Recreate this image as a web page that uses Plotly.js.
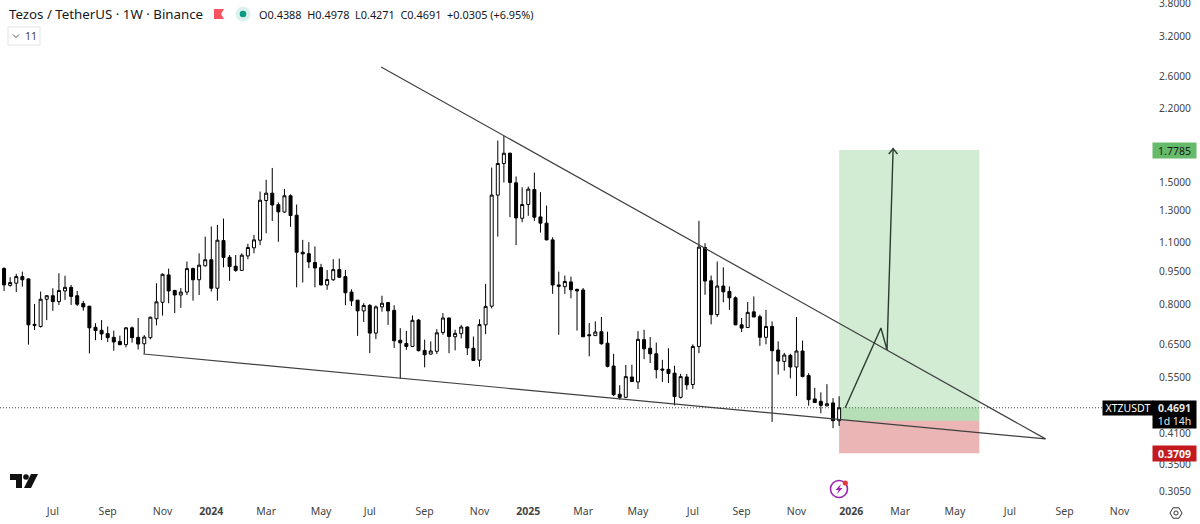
<!DOCTYPE html>
<html>
<head>
<meta charset="utf-8">
<script src="https://cdn.plot.ly/plotly-3.0.1.min.js"></script>
<style>html,body{margin:0;padding:0;background:#fff}#c{width:1200px;height:524px}</style>
</head>
<body>
<div id="c"></div>
<script>
const firstWeek = Date.UTC(2023, 4, 8);
const open_ = [.963,.883,.893,.924,.913,.722,.714,.822,.837,.812,.858,.874,.837,.804,.793,.711,.700,.688,.675,.661,.650,.709,.675,.653,.674,.743,.809,.932,.860,.840,.853,.963,.909,.977,1.008,.870,1.113,1.021,.975,.954,1.028,1.072,1.115,1.369,1.422,1.340,
1.290,1.403,1.269,1.048,1.040,.994,.968,.885,.909,.958,.924,.853,.818,.774,.796,.690,.790,.808,.776,.665,.654,.644,.738,.631,.619,.628,.692,.746,.677,.688,.712,.638,.600,.720,.793,1.408,1.658,1.748,1.500,1.249,1.341,1.449,1.258,1.218,1.117,.885,.877,.899,.865,
.862,.684,.681,.695,.655,.582,.503,.495,.550,.536,.667,.638,.620,.573,.572,.561,.495,.550,.529,.644,1.074,.904,.759,.880,.856,.828,.720,.710,.770,.751,.675,.714,.632,.596,.615,.579,.629,.554,.491,.485,.474,.481,.4388];
const high_ = [.970,.921,.937,.948,.915,.802,.855,.840,.870,.940,.928,.885,.858,.815,.794,.726,.738,.714,.699,.681,.712,.714,.746,.683,.751,.893,.939,.963,.863,.871,.999,.968,1.042,1.136,1.197,1.207,1.247,1.033,1.033,1.042,1.095,1.146,1.434,1.524,1.62,1.356,
1.454,1.413,1.341,1.117,1.104,1.080,.987,.956,1.011,1.014,.956,.865,.819,.805,.802,.796,.837,.809,.797,.708,.698,.756,.742,.667,.661,.704,.765,.748,.702,.720,.714,.678,.741,.890,1.623,1.867,1.912,1.754,1.550,1.466,1.471,1.582,1.430,1.334,1.132,.948,.929,.924,.868,
.871,.727,.733,.750,.695,.620,.527,.585,.586,.697,.702,.676,.657,.601,.638,.583,.559,.559,.651,1.233,1.098,.929,.999,.969,.878,.834,.746,.810,.834,.759,.778,.733,.661,.623,.620,.750,.664,.561,.520,.508,.530,.493,.4978];
const low_ = [.858,.877,.853,.877,.650,.701,.710,.738,.774,.798,.819,.798,.794,.775,.621,.665,.666,.659,.630,.648,.641,.657,.634,.620,.668,.718,.755,.805,.765,.786,.840,.816,.840,.973,.855,.816,.969,.904,.947,.951,1.011,1.042,1.087,1.156,1.232,1.106,
1.285,1.195,.874,.896,.965,.874,.883,.863,.904,.918,.797,.794,.680,.731,.622,.669,.771,.720,.639,.545,.633,.642,.628,.578,.617,.619,.684,.622,.631,.671,.616,.597,.580,.686,.784,1.136,1.503,1.256,1.087,1.224,1.265,1.232,1.160,1.115,.845,.684,.845,.826,.699,
.676,.612,.680,.650,.578,.498,.489,.493,.536,.517,.603,.591,.546,.536,.533,.475,.492,.515,.517,.622,.841,.722,.750,.809,.778,.719,.694,.709,.749,.646,.651,.436,.557,.568,.546,.498,.549,.474,.481,.456,.472,.422,.4271];
const close_ = [.885,.896,.924,.909,.720,.718,.822,.837,.812,.860,.874,.834,.801,.790,.709,.699,.687,.674,.659,.650,.709,.674,.652,.676,.749,.811,.935,.858,.840,.853,.963,.909,.980,1.008,.870,1.115,1.020,.973,.954,1.032,1.074,1.117,1.371,1.422,1.338,1.291,
1.403,1.267,1.048,1.039,.997,.966,.885,.910,.958,.921,.850,.815,.774,.796,.690,.790,.805,.774,.663,.656,.644,.737,.630,.617,.629,.691,.746,.678,.689,.712,.639,.599,.721,.792,1.408,1.658,1.748,1.503,1.251,1.341,1.452,1.256,1.218,1.117,.885,.879,.901,.863,.858,
.677,.681,.694,.653,.581,.502,.495,.551,.537,.668,.636,.620,.571,.570,.560,.497,.551,.528,.644,1.076,.903,.759,.880,.854,.828,.720,.708,.768,.750,.675,.714,.630,.597,.616,.579,.629,.551,.489,.482,.475,.479,.4388,.4691];
const weeks = open_.map((_, i) => new Date(firstWeek + i * 7 * 864e5).toISOString().slice(0, 10));

const xTickDates = ['2023-07-03','2023-09-04','2023-11-06','2024-01-01','2024-03-04','2024-05-06','2024-07-01','2024-09-02','2024-11-04','2024-12-30','2025-03-03','2025-05-05','2025-07-07','2025-09-01','2025-11-03','2026-01-05','2026-03-02','2026-05-04','2026-07-06','2026-09-07','2026-11-09'];
const xTickLabels = ['Jul','Sep','Nov','<b>2024</b>','Mar','May','Jul','Sep','Nov','<b>2025</b>','Mar','May','Jul','Sep','Nov','<b>2026</b>','Mar','May','Jul','Sep','Nov'];
const yTicks = [3.8,3.2,2.6,2.2,1.5,1.3,1.1,.95,.8,.65,.55,.41,.35,.305];
const yTickLabels = ['3.8000','3.2000','2.6000','2.2000','1.5000','1.3000','1.1000','0.9500','0.8000','0.6500','0.5500','0.4100','0.3500','0.3050'];

const upperLineX = ['2024-07-14','2026-08-16'], upperLineY = [2.730,.3994];
const lowerLineX = ['2023-10-15','2026-08-16'], lowerLineY = [.6193,.3994];
const pathX = ['2025-12-29','2026-02-08','2026-02-15','2026-02-22'], pathY = [.4691,.7083,.6325,1.79];
const headX = ['2026-02-17','2026-02-22','2026-02-27'], headY = [1.741,1.79,1.741];
const posStart = '2025-12-22', posEnd = '2026-06-01';
const targetPrice = 1.7785, entryPrice = .4388, stopPrice = .3709, lastPrice = .4691;

const W = 1150, H = 500;
const px = x => x / W, py = y => 1 - y / H;
const FONT = '"Noto Sans", "Open Sans", sans-serif';

function note(x, y, text, o) {
  return Object.assign({xref:'paper', yref:'paper', x:px(x), y:py(y), text, showarrow:false,
    xanchor:'left', yanchor:'middle', align:'left', font:{family:FONT, size:11, color:'#131722'}, borderpad:0}, o || {});
}
function pPath(pts, close) {
  return 'M' + pts.map(p => px(p[0]).toFixed(5) + ',' + py(p[1]).toFixed(5)).join('L') + (close ? 'Z' : '');
}
function circ(cx, cy, r, extra) {
  return Object.assign({type:'circle', xref:'paper', yref:'paper', x0:px(cx-r), x1:px(cx+r), y0:py(cy+r), y1:py(cy-r), layer:'above'}, extra);
}
function pathShape(pts, close, extra) {
  return Object.assign({type:'path', xref:'paper', yref:'paper', path:pPath(pts, close), layer:'above'}, extra);
}
const noLine = {line:{width:0}};

const traces = [
  {type:'candlestick', x:weeks, open:open_, high:high_, low:low_, close:close_,
   increasing:{line:{color:'#000', width:1}, fillcolor:'#fff'},
   decreasing:{line:{color:'#000', width:1}, fillcolor:'#000'},
   whiskerwidth:0, hoverinfo:'skip', showlegend:false},
  {type:'scatter', mode:'lines', x:upperLineX, y:upperLineY, line:{color:'#3f3f3f', width:1.2}, hoverinfo:'skip', showlegend:false},
  {type:'scatter', mode:'lines', x:lowerLineX, y:lowerLineY, line:{color:'#3f3f3f', width:1.2}, hoverinfo:'skip', showlegend:false},
  {type:'scatter', mode:'lines', x:pathX, y:pathY, line:{color:'#2c3a30', width:1.4}, hoverinfo:'skip', showlegend:false},
  {type:'scatter', mode:'lines', x:headX, y:headY, line:{color:'#2c3a30', width:1.4}, hoverinfo:'skip', showlegend:false}
];

const shapes = [
  {type:'rect', xref:'x', yref:'y', x0:posStart, x1:posEnd, y0:entryPrice, y1:targetPrice, fillcolor:'rgba(76,175,80,0.25)', line:{width:0}, layer:'below'},
  {type:'rect', xref:'x', yref:'y', x0:posStart, x1:posEnd, y0:entryPrice, y1:lastPrice, fillcolor:'rgba(76,175,80,0.22)', line:{width:0}, layer:'below'},
  {type:'rect', xref:'x', yref:'y', x0:posStart, x1:posEnd, y0:stopPrice, y1:entryPrice, fillcolor:'rgba(200,50,50,0.36)', line:{width:0}, layer:'below'},
  {type:'line', xref:'paper', yref:'y', x0:0, x1:px(1103), y0:lastPrice, y1:lastPrice, line:{color:'#444', width:1, dash:'1px,2px'}, layer:'below'},
  // header icons
  pathShape([[214,9],[224,9],[221,14],[224,19],[214,19]], true, Object.assign({fillcolor:'#f7525f'}, noLine)),
  circ(243,14,7.5,Object.assign({fillcolor:'rgba(8,153,129,0.14)'}, noLine)),
  circ(243,14,3.3,Object.assign({fillcolor:'#089981'}, noLine)),
  {type:'rect', xref:'paper', yref:'paper', x0:px(8), x1:px(40), y0:py(45), y1:py(27), fillcolor:'#fff', line:{color:'#e0e3eb', width:1}, layer:'above'},
  pathShape([[13,34.5],[16,37.5],[19,34.5]], false, {line:{color:'#555', width:1}}),
  // TradingView mark
  pathShape([[10,474],[22,474],[22,488],[16,488],[16,480],[10,480]], true, Object.assign({fillcolor:'#111'}, noLine)),
  circ(26,477,2.8,Object.assign({fillcolor:'#111'}, noLine)),
  pathShape([[31,474],[38,474],[31,488],[24,488]], true, Object.assign({fillcolor:'#111'}, noLine)),
  // bolt badge
  circ(839,489,8.5,{fillcolor:'rgba(0,0,0,0)', line:{color:'#9c27b0', width:1.6}}),
  pathShape([[841,484],[835.5,490],[838.5,490],[837,494],[842.5,488],[839.5,488]], true, Object.assign({fillcolor:'#9c27b0'}, noLine)),
  circ(845.3,483,2.6,Object.assign({fillcolor:'#e53935'}, noLine)),
  // settings icon
  pathShape([[1170,513],[1173,507.8],[1179,507.8],[1182,513],[1179,518.2],[1173,518.2]], true, {fillcolor:'rgba(0,0,0,0)', line:{color:'#333', width:1}}),
  circ(1176,513,2.1,{fillcolor:'rgba(0,0,0,0)', line:{color:'#333', width:1}})
];

const annotations = [
  note(8, 14, 'Tezos / TetherUS · 1W · Binance', {font:{family:FONT, size:13.3, color:'#131722'}}),
  note(258, 14.5, 'O0.4388  H0.4978  L0.4271  C0.4691  +0.0305 (+6.95%)', {font:{family:FONT, size:10.9, color:'#131722'}}),
  note(24, 36.5, '11', {font:{family:FONT, size:10.5, color:'#444'}}),
  note(1174.5, 150.5, '1.7785', {xanchor:'center', align:'center', width:43, height:15, bgcolor:'#66bb6a', font:{family:FONT, size:10.5, color:'#1a1a1a'}}),
  note(1127.5, 408, 'XTZUSDT', {xanchor:'center', align:'center', width:50, height:14, bgcolor:'#000', font:{family:FONT, size:10.5, color:'#fff'}}),
  note(1174.5, 414.5, '<b>0.4691</b><br>1d 14h', {xanchor:'center', align:'center', width:43, height:27, bgcolor:'#000', font:{family:FONT, size:10.5, color:'#e6e6e6'}}),
  note(1174.5, 453.5, '<b>0.3709</b>', {xanchor:'center', align:'center', width:43, height:15, bgcolor:'#c21a1f', font:{family:FONT, size:10.5, color:'#fff'}})
];

const layout = {
  width:1200, height:524, margin:{l:0, r:50, t:0, b:24},
  paper_bgcolor:'#fff', plot_bgcolor:'#fff', showlegend:false, dragmode:false,
  font:{family:FONT, size:10.5, color:'#444'},
  xaxis:{type:'date', range:['2023-05-03 08:00','2026-12-14'], rangeslider:{visible:false},
    tickmode:'array', tickvals:xTickDates, ticktext:xTickLabels, ticks:'', showgrid:false, zeroline:false, showline:false,
    tickangle:0, ticklabelstandoff:3, automargin:false, tickfont:{family:FONT, size:10.5, color:'#444'}},
  yaxis:{type:'log', side:'right', range:[-0.5358,0.5865], tickmode:'array', tickvals:yTicks, ticktext:yTickLabels,
    ticks:'', showgrid:false, zeroline:false, showline:false, ticklabelstandoff:8, ticklabeloverflow:'allow', automargin:false,
    tickfont:{family:FONT, size:10.2, color:'#444'}},
  shapes, annotations
};
Plotly.newPlot('c', traces, layout, {staticPlot:true, displayModeBar:false});
</script>
</body>
</html>
